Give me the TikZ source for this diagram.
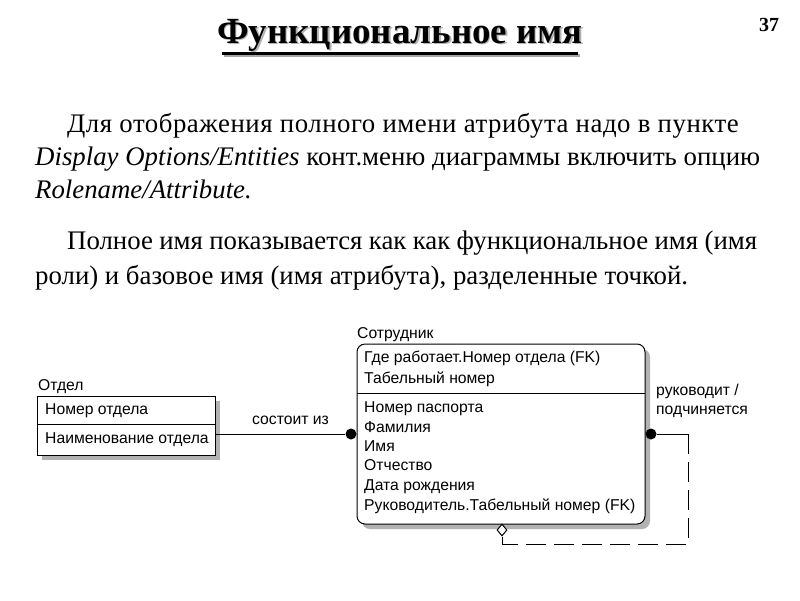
\documentclass[tikz,border=0pt]{standalone}
\usepackage{fontspec}
\setmainfont{Liberation Serif}
\newfontfamily\arial{Liberation Sans}
\usetikzlibrary{shapes.geometric}
\tikzset{
  body/.style={anchor=mid west, inner sep=0, font=\fontsize{26.8}{30}\selectfont},
  erd/.style={anchor=mid west, inner sep=0, yshift=-2pt, font=\arial\fontsize{15.7}{18}\selectfont},
  shadowfill/.style={fill=gray!60, draw=none},
  boxline/.style={draw=black, line width=1pt},
  dotnode/.style={circle, fill=black, inner sep=0, minimum size=11pt},
  relline/.style={draw=black, line width=1pt},
  recline/.style={draw=black, line width=1pt, dash pattern=on 20pt off 8pt},
}
\begin{document}
\begin{tikzpicture}[x=1pt,y=-1pt]
\useasboundingbox (0,0) rectangle (800,600);
% title
\fill[gray!70] (224,54) rectangle (580,57);
\fill[black] (222,52) rectangle (578,55);
\node[inner sep=0, font=\bfseries\fontsize{36.9}{40}\selectfont] (title) at (400,36) {\makebox[0pt]{\hspace{3pt}\textcolor{gray!60}{Функциональное имя}}\makebox[0pt]{\raisebox{1.5pt}{Функциональное имя}}};
\node[inner sep=0, font=\bfseries\fontsize{20}{24}\selectfont] (pagenum) at (769,25) {37};
% paragraphs
\node[body] (l1) at (67,130) {\addfontfeature{LetterSpace=2.0}Для отображения полного имени атрибута надо в пункте};
\node[body] (l2) at (35,163) {\makebox[725pt][s]{\textit{Display Options/Entities} конт.меню диаграммы включить опцию}};
\node[body] (l3) at (35,196) {\textit{Rolename/Attribute.}};
\node[body] (l4) at (67,247) {\makebox[690pt][s]{Полное имя показывается как как функциональное имя (имя}};
\node[body] (l5) at (35,282) {роли) и базовое имя (имя атрибута), разделенные точкой.};
% Otdel entity
\node[erd] (otdelname) at (38,386) {Отдел};
\fill[shadowfill] (42,401) rectangle (220,460);
\filldraw[boxline, fill=white] (37,396) rectangle (215,455);
\draw[boxline] (37,424) -- (215,424);
\node[erd] (o1) at (45,410) {Номер отдела};
\node[erd] (o2) at (45,439) {Наименование отдела};
\coordinate (otdelR) at (215,434);
% Sotrudnik entity
\node[erd] (sotrname) at (357,334) {Сотрудник};
\fill[shadowfill, rounded corners=8pt] (362,349) rectangle (650,529);
\filldraw[boxline, fill=white, rounded corners=8pt] (357,344) rectangle (645,524);
\draw[boxline] (357,393) -- (645,393);
\node[erd] (s1) at (364,358) {Где работает.Номер отдела (FK)};
\node[erd] (s2) at (364,379) {Табельный номер};
\node[erd] (s3) at (364,408) {Номер паспорта};
\node[erd] (s4) at (364,428) {Фамилия};
\node[erd] (s5) at (364,447) {Имя};
\node[erd] (s6) at (364,466) {Отчество};
\node[erd] (s7) at (364,486) {Дата рождения};
\node[erd] (s8) at (364,506) {Руководитель.Табельный номер (FK)};
% relationship состоит из
\node[dotnode] (dot1) at (351,434) {};
\draw[relline] (otdelR) -- (dot1);
\node[erd] (rel1) at (252,420) {состоит из};
% recursive relationship
\node[dotnode] (dot2) at (651,434) {};
\node[diamond, draw=black, line width=1pt, fill=white, inner sep=0, minimum width=10pt, minimum height=12pt] (dia) at (502,530) {};
\coordinate (c1) at (688,434);
\coordinate (c2) at (688,544);
\coordinate (c3) at (502,544);
\draw[relline] (dot2) -- (c1);
\draw[recline] (c1) -- (c2) -- (c3);
\draw[relline] (c3) -- (dia.south);
\node[erd] (rel2a) at (656,391) {руководит /};
\node[erd] (rel2b) at (656,410) {подчиняется};
\end{tikzpicture}
\end{document}
